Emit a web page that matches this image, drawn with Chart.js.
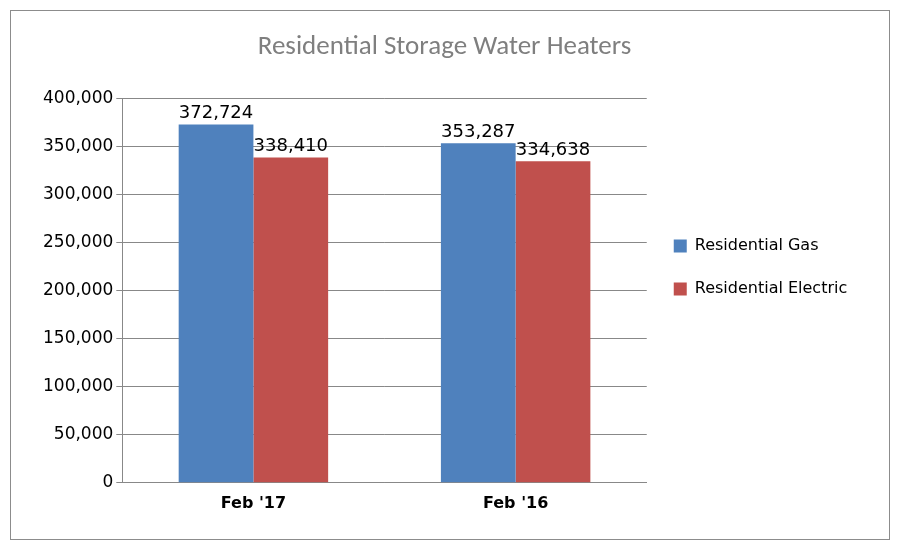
<!DOCTYPE html>
<html>
<head>
<script src="https://cdn.jsdelivr.net/npm/chart.js@4"></script>
<style>
body { margin: 0; background: #fff; }
#wrap { position: absolute; left: 10px; top: 10px; width: 878px; height: 528px; border: 1px solid #8c8c8c; }
</style>
</head>
<body>
<div id="wrap"><canvas id="c"></canvas></div>
<script>
const categories = ["Feb '17", "Feb '16"];
const gasValues = [372724, 353287];
const electricValues = [338410, 334638];
const seriesNames = ['Residential Gas', 'Residential Electric'];

const labelPlugin = {
    id: 'valueLabels',
    afterDatasetsDraw(chart) {
        const ctx = chart.ctx;
        ctx.save();
        ctx.font = '18px "DejaVu Sans"';
        ctx.fillStyle = '#000';
        ctx.textAlign = 'center';
        ctx.textBaseline = 'bottom';
        chart.data.datasets.forEach((ds, i) => {
            chart.getDatasetMeta(i).data.forEach((bar, j) => {
                ctx.fillText(ds.data[j].toLocaleString('en-US'), bar.x, bar.y - 2);
            });
        });
        ctx.restore();
    }
};

new Chart(document.getElementById('c'), {
    type: 'bar',
    data: {
        labels: categories,
        datasets: [
            { label: seriesNames[0], data: gasValues, backgroundColor: '#4F81BD' },
            { label: seriesNames[1], data: electricValues, backgroundColor: '#C0504D' }
        ]
    },
    options: {
        responsive: true,
        maintainAspectRatio: false,
        animation: false,
        categoryPercentage: 0.57,
        barPercentage: 1,
        layout: { padding: { left: 29, right: 40, top: 8, bottom: 23 } },
        plugins: {
            title: {
                display: true,
                text: 'Residential Storage Water Heaters',
                color: '#7f7f7f',
                font: { family: 'Calibri, "Liberation Sans", sans-serif', size: 27, weight: 'normal' },
                padding: { top: 12, bottom: 35 }
            },
            legend: {
                position: 'right',
                labels: {
                    color: '#000',
                    boxWidth: 13, boxHeight: 13,
                    padding: 27,
                    font: { family: '"DejaVu Sans"', size: 16 }
                }
            },
            tooltip: { enabled: false }
        },
        scales: {
            x: {
                grid: { display: false },
                border: { color: '#888' },
                ticks: { color: '#000', font: { family: '"DejaVu Sans"', size: 16, weight: 'bold' } }
            },
            y: {
                min: 0, max: 400000,
                ticks: {
                    stepSize: 50000, color: '#000',
                    font: { family: '"DejaVu Sans"', size: 17 },
                    callback: v => v.toLocaleString('en-US')
                },
                grid: { color: '#888', drawTicks: true, tickLength: 6 },
                border: { color: '#888' }
            }
        }
    },
    plugins: [labelPlugin]
});
</script>
</body>
</html>
